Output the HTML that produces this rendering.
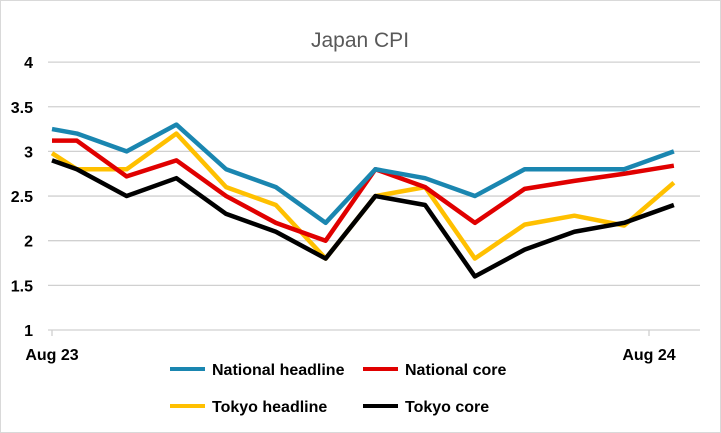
<!DOCTYPE html>
<html><head><meta charset="utf-8"><style>
html,body{margin:0;padding:0;background:#fff;}
svg{display:block;font-family:"Liberation Sans",sans-serif;}
</style></head><body>
<svg id="chart" width="721" height="433">
<rect x="0.5" y="0.5" width="720" height="432" fill="#fff" stroke="#d9d9d9"/>
<text x="360" y="47" text-anchor="middle" font-size="21" fill="#595959">Japan CPI</text>
<g id="grid"></g><g id="yticks"></g><g id="xaxis"></g><g id="series"></g>
<g>
<g><line x1="170" y1="369" x2="205" y2="369" stroke="#1a86b0" stroke-width="4"/><text x="212" y="375" font-size="16" font-weight="bold" fill="#000">National headline</text></g>
<g><line x1="363" y1="369" x2="398" y2="369" stroke="#e00000" stroke-width="4"/><text x="405" y="375" font-size="16" font-weight="bold" fill="#000">National core</text></g>
<g><line x1="170" y1="406" x2="205" y2="406" stroke="#ffc000" stroke-width="4"/><text x="212" y="412" font-size="16" font-weight="bold" fill="#000">Tokyo headline</text></g>
<g><line x1="363" y1="406" x2="398" y2="406" stroke="#000" stroke-width="4"/><text x="405" y="412" font-size="16" font-weight="bold" fill="#000">Tokyo core</text></g>
</g>
</svg>
<script>
const xMonths = [0,0.5,1.5,2.5,3.5,4.5,5.5,6.5,7.5,8.5,9.5,10.5,11.5,12.5];
const nationalHeadline = [3.25,3.2,3.0,3.3,2.8,2.6,2.2,2.8,2.7,2.5,2.8,2.8,2.8,3.0];
const nationalCore = [3.12,3.12,2.72,2.9,2.5,2.2,2.0,2.8,2.6,2.2,2.58,2.67,2.75,2.84];
const tokyoHeadline = [2.98,2.8,2.8,3.2,2.6,2.4,1.8,2.5,2.6,1.8,2.18,2.28,2.17,2.65];
const tokyoCore = [2.9,2.8,2.5,2.7,2.3,2.1,1.8,2.5,2.4,1.6,1.9,2.1,2.2,2.4];
const yTicks = [1,1.5,2,2.5,3,3.5,4];
const yTickLabels = ["1","1.5","2","2.5","3","3.5","4"];
const xTicks = [0,12];
const xTickLabels = ["Aug 23","Aug 24"];

const NS="http://www.w3.org/2000/svg";
const xs = m => 52 + m*49.75;
const ys = v => 330 - (v-1)*89.3;
function mk(tag, attrs, parent){const e=document.createElementNS(NS,tag);for(const k in attrs)e.setAttribute(k,attrs[k]);parent.appendChild(e);return e;}
const grid=document.getElementById('grid'), yt=document.getElementById('yticks'), xa=document.getElementById('xaxis'), sg=document.getElementById('series');
yTicks.forEach((v,i)=>{
  const l=mk('line',{x1:48,x2:700,y1:ys(v),y2:ys(v),stroke:'#d0d0d0','stroke-width':1.3},grid);
  
  
  const t=mk('text',{x:33,y:ys(v)+6,'text-anchor':'end','font-size':16,'font-weight':'bold',fill:'#000'},yt);
  t.textContent=yTickLabels[i];
  
  
});
xTicks.forEach((m,i)=>{
  const tk=mk('line',{x1:xs(m),x2:xs(m),y1:330,y2:336,stroke:'#d0d0d0','stroke-width':1.3},xa);
  
  
  const t=mk('text',{x:xs(m),y:360,'text-anchor':'middle','font-size':16,'font-weight':'bold',fill:'#000'},xa);
  t.textContent=xTickLabels[i];
  
  
});
const series=[["national-headline",nationalHeadline,"#1a86b0"],["national-core",nationalCore,"#e00000"],["tokyo-headline",tokyoHeadline,"#ffc000"],["tokyo-core",tokyoCore,"#000"]];
[2,3,1,0].forEach(i=>{
  const [n,d,c]=series[i];
  const p=mk('polyline',{points:d.map((v,j)=>xs(xMonths[j])+','+ys(v)).join(' '),fill:'none',stroke:c,'stroke-width':4.5,'stroke-linejoin':'round'},sg);
  
  
});
</script>
</body></html>
